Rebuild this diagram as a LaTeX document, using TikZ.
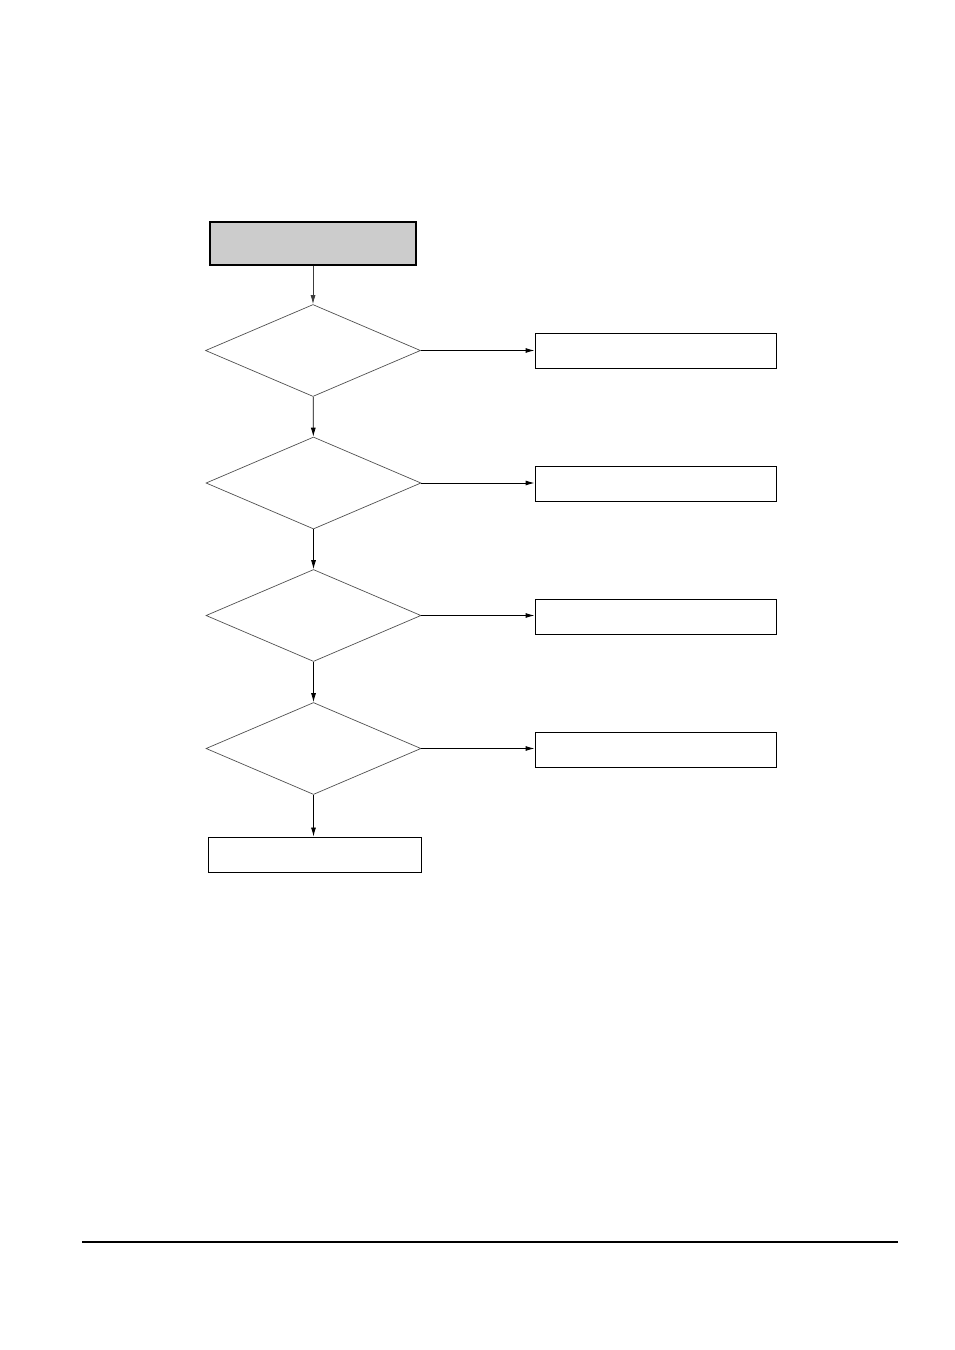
\documentclass[tikz,border=0pt]{standalone}
\usepackage{tikz}
\usetikzlibrary{arrows.meta, shapes.geometric}

\begin{document}
\begin{tikzpicture}[x=1pt, y=-1pt,
  startbox/.style={draw=black, line width=1.2pt, fill={rgb,255:red,204;green,204;blue,204}, minimum width=206pt, minimum height=43pt, inner sep=0pt},
  procbox/.style={draw=black, line width=0.9pt, minimum width=241pt, minimum height=35pt, inner sep=0pt},
  endbox/.style={draw=black, line width=0.9pt, minimum width=213pt, minimum height=35pt, inner sep=0pt},
  decision/.style={diamond, draw={rgb,255:red,80;green,80;blue,80}, line width=0.7pt, minimum width=215pt, minimum height=92pt, inner sep=0pt},
  tip/.style={-{Latex[length=9pt, width=5pt]}}]
  \useasboundingbox (0,0) rectangle (954,1350);

  % Nodes
  \node[startbox] (s) at (313,243.5) {};
  \node[decision] (d1) at (313,350.5) {};
  \node[decision] (d2) at (313.5,483) {};
  \node[decision] (d3) at (313.5,615.5) {};
  \node[decision] (d4) at (313.5,748.5) {};
  \node[procbox] (b1) at (655.5,350.5) {};
  \node[procbox] (b2) at (655.5,484) {};
  \node[procbox] (b3) at (655.5,616.5) {};
  \node[procbox] (b4) at (655.5,749.5) {};
  \node[endbox] (e) at (314.5,854.5) {};

  % Vertical arrows down the chain
  \draw[tip, line width=0.8pt, draw={rgb,255:red,60;green,60;blue,60}] (s) -- (d1);
  \draw[tip, line width=0.8pt] (d1) -- (d2);
  \draw[tip, line width=0.8pt] (d2) -- (d3);
  \draw[tip, line width=0.8pt] (d3) -- (d4);
  \draw[tip, line width=0.8pt] (d4.south) -- (e.north -| d4.south);

  % Arrows from each decision to its box
  \foreach \x in {1,2,3,4}
  {
    \draw[tip, line width=0.9pt] (d\x.east) -- (b\x.west |- d\x.east);
  }

  % Rule at the foot of the page
  \coordinate (rl) at (82,1242);
  \coordinate (rr) at (898,1242);
  \draw[line width=2pt] (rl) -- (rr);
\end{tikzpicture}
\end{document}
